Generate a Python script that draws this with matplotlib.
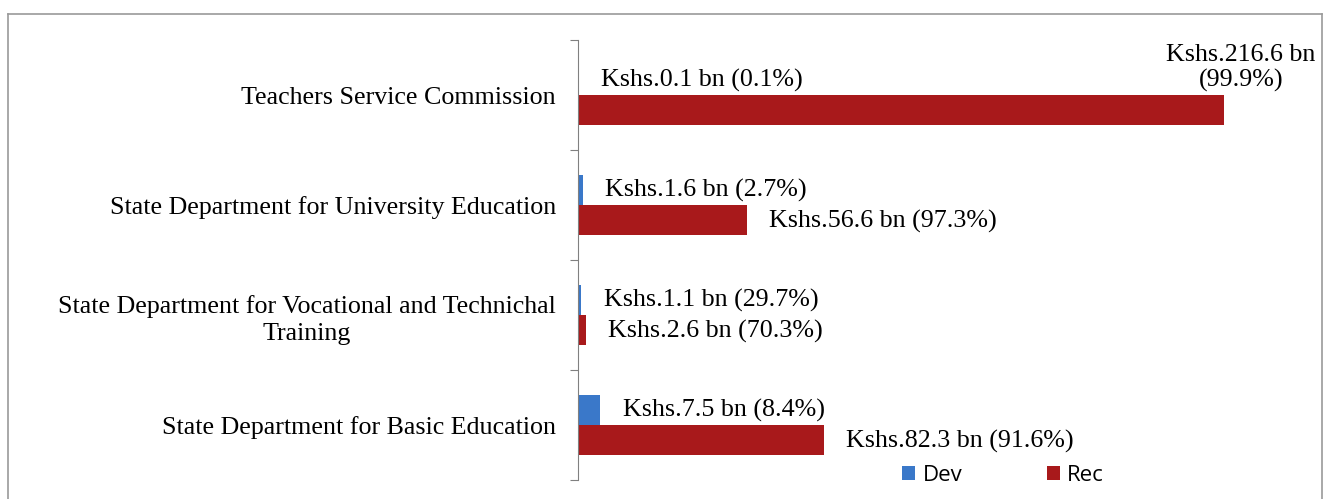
"""
Gasto en educación por departamento: Dev vs Rec.
"""

import matplotlib.pyplot as plt
from matplotlib.lines import Line2D

# categorías de abajo hacia arriba (como en Excel)
departamentos = [
    "State Department for Basic Education",
    "State Department for Vocational and Technichal\nTraining",
    "State Department for University Education",
    "Teachers Service Commission",
]
dev = [7.5, 1.1, 1.6, 0.1]
rec = [82.3, 2.6, 56.6, 216.6]
dev_pct = [8.4, 29.7, 2.7, 0.1]
rec_pct = [91.6, 70.3, 97.3, 99.9]

color_dev = "#3A78C9"
color_rec = "#A8191B"
tam = 18.7

plt.rcParams["font.family"] = ["Liberation Serif", "DejaVu Serif"]

fig = plt.figure(figsize=(13.29, 4.99), dpi=100)
ax = fig.add_axes([578 / 1329, 1 - 480 / 499, (1300 - 578) / 1329, 440 / 499])

y = list(range(len(departamentos)))
h = 0.27

barras_dev = ax.barh([i + h / 2 for i in y], dev, height=h, color=color_dev, label="Dev")
barras_rec = ax.barh([i - h / 2 for i in y], rec, height=h, color=color_rec, label="Rec")

ax.set_xlim(0, 242)
ax.set_ylim(-0.5, len(departamentos) - 0.5)

# etiquetas de datos
for i in y:
    ax.annotate(
        f"Kshs.{dev[i]} bn ({dev_pct[i]}%)",
        (dev[i], i + h / 2),
        xytext=(16, 0), textcoords="offset points",
        ha="left", va="center", fontsize=tam,
    )
    if i == len(departamentos) - 1:
        ax.annotate(
            f"Kshs.{rec[i]} bn\n({rec_pct[i]}%)",
            (rec[i], i - h / 2),
            xytext=(12, 30), textcoords="offset points",
            ha="center", va="center", fontsize=tam, linespacing=1.2,
        )
    else:
        ax.annotate(
            f"Kshs.{rec[i]} bn ({rec_pct[i]}%)",
            (rec[i], i - h / 2),
            xytext=(16, -1), textcoords="offset points",
            ha="left", va="center", fontsize=tam,
        )

# ejes
for lado in ["top", "right", "bottom"]:
    ax.spines[lado].set_visible(False)
ax.spines["left"].set_color("#808080")
ax.set_xticks([])
ax.set_yticks([i - 0.5 for i in range(len(departamentos) + 1)])
ax.set_yticklabels([])
ax.tick_params(axis="y", which="major", length=6, color="#808080")
ax.set_yticks(y, minor=True)
ax.set_yticklabels(departamentos, minor=True, fontsize=tam, multialignment="center",
                   linespacing=1.3)
ax.tick_params(axis="y", which="minor", length=0, pad=16)

ax.legend(
    handles=[barras_dev, barras_rec],
    loc="lower left", bbox_to_anchor=(882 / 1329, -0.014), bbox_transform=fig.transFigure,
    ncol=2, frameon=False, columnspacing=3.8, handlelength=0.6, handleheight=0.6,
    handletextpad=0.32, prop={"family": "Open Sans", "size": 16},
)

# marco del gráfico
gris = "#9a9a9a"
fig.add_artist(Line2D([8 / 1329, 8 / 1329], [0, 1 - 14 / 499], color=gris, lw=1.2))
fig.add_artist(Line2D([8 / 1329, 1322 / 1329], [1 - 14 / 499, 1 - 14 / 499], color=gris, lw=1.2))
fig.add_artist(Line2D([1322 / 1329, 1322 / 1329], [0, 1 - 14 / 499], color=gris, lw=1.2))

plt.savefig("out.png", dpi=100)
plt.close()
